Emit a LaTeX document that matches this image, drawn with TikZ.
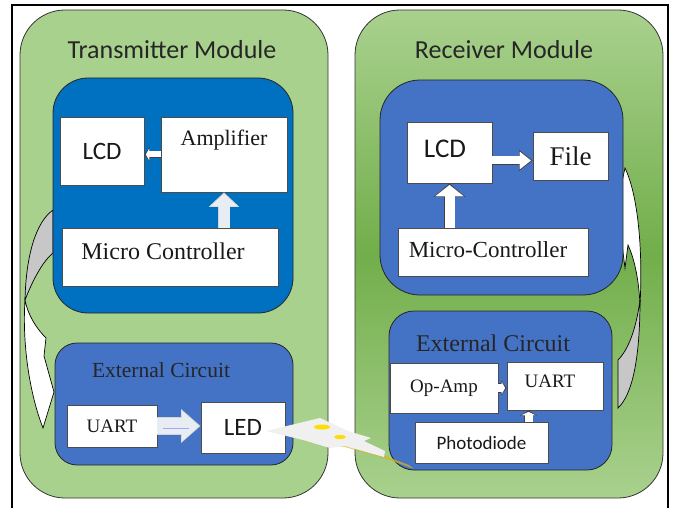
\documentclass[tikz,border=0pt]{standalone}
\usepackage{fontspec}
\setmainfont{Liberation Serif}
\newfontfamily\calibri{Carlito}
\usetikzlibrary{arrows.meta,calc}
\definecolor{lightgreen}{HTML}{A9D18E}
\definecolor{midgreen}{HTML}{72AE4B}
\definecolor{deepblue}{HTML}{0070C0}
\definecolor{panelblue}{HTML}{4472C4}
\definecolor{palegray}{HTML}{E8EDF3}
\tikzset{>=stealth,
  module/.style={draw=black!80, line width=0.8pt, rounded corners=45pt, inner sep=0pt},
  panel/.style={draw=black!85, line width=0.8pt, inner sep=0pt},
  unit/.style={draw=black!70, line width=0.8pt, fill=white, inner sep=0pt, text=black!90},
  title/.style={font=\calibri\txtsize{26}, text=black!85}}
\newcommand\txtsize[1]{\fontsize{#1}{#1}\selectfont}
\newcommand\blockarrow[7][black!75]{%
  \pgfmathsetmacro\outshaft{#4+1.6}%
  \pgfmathsetmacro\outheadw{#5+2.6}%
  \pgfmathsetmacro\outheadl{#6+1.4}%
  \pgfmathsetmacro\inheadl{#6-0.6}%
  \draw[#1, line width=\outshaft pt, -{Triangle[length=\outheadl pt, width=\outheadw pt]}] (#2) -- (#3);
  \draw[#7, line width=#4pt, shorten >=1.5pt, -{Triangle[length=\inheadl pt, width=#5pt]}] (#2) -- (#3);}

\begin{document}
\begin{tikzpicture}[x=1pt,y=-1pt]
\useasboundingbox (0,0) rectangle (675,508);
\draw[line width=1.4pt] (12,508) -- (12,5) -- (668,5) -- (668,508);

\node[module, fill=lightgreen, minimum width=308pt, minimum height=488pt] (tx) at (174,254) {};
\node[module, top color=lightgreen, bottom color=lightgreen, middle color=midgreen, minimum width=308pt, minimum height=488pt] (rx) at (509,254) {};
\node[title] (txtitle) at (172,50) {Transmitter Module};
\node[title] (rxtitle) at (504,50) {Receiver Module};

\filldraw[fill=black!22, draw=black, line width=0.7pt] (53,210) .. controls (36,222) and (26,255) .. (25,300) .. controls (32,282) and (42,262) .. (53,253) -- cycle;
\filldraw[fill=white, draw=black, line width=0.7pt] (25,300) .. controls (22,345) and (30,395) .. (43,428) -- (54,392) -- (44,356) -- (46,338) .. controls (36,328) and (28,315) .. (25,300) -- cycle;
\filldraw[fill=black!22, draw=black, line width=0.7pt] (618,360) -- (618,408) .. controls (632,395) and (640,360) .. (640,300) .. controls (636,330) and (628,350) .. (618,360) -- cycle;
\filldraw[fill=white, draw=black, line width=0.7pt] (640,305) .. controls (643,250) and (638,195) .. (625,168) -- (617,205) -- (625,268) -- (628,245) .. controls (635,260) and (639,282) .. (640,305) -- cycle;

\node[panel, fill=deepblue, rounded corners=35pt, minimum width=240pt, minimum height=235pt] (txctrl) at (173,195.5) {};
\node[panel, fill=panelblue, rounded corners=22pt, minimum width=238pt, minimum height=122pt] (txext) at (174,404) {};
\node[panel, fill=panelblue, rounded corners=40pt, minimum width=243pt, minimum height=215pt] (rxctrl) at (501.5,187.5) {};
\node[panel, fill=panelblue, rounded corners=25pt, minimum width=223pt, minimum height=159pt] (rxext) at (500.5,390.5) {};
\node[font=\txtsize{21.5}, text=black!85] (txexttitle) at (161,370) {External Circuit};
\node[font=\txtsize{24}, text=black!85] (rxexttitle) at (493,343) {External Circuit};

\node[unit, minimum width=84pt, minimum height=68pt, font=\calibri\txtsize{25}] (lcdtx) at (102,151) {LCD};
\node[unit, minimum width=126pt, minimum height=75pt] (amp) at (224,154.5) {};
\node[font=\txtsize{22}, text=black!90] (amptext) at (224,140) {Amplifier};
\node[unit, minimum width=216pt, minimum height=58pt] (mctx) at (170,257) {};
\node[font=\txtsize{24}, text=black!90] (mctxtext) at (163,251) {Micro Controller};
\node[unit, minimum width=90pt, minimum height=42pt, font=\txtsize{19}] (uarttx) at (112,426) {UART};
\node[unit, minimum width=84pt, minimum height=51pt, font=\calibri\txtsize{25}] (ledtx) at (243,427.5) {LED};

\node[unit, minimum width=85pt, minimum height=61pt] (lcdrx) at (449.5,152.5) {};
\node[font=\calibri\txtsize{27}, text=black!90] (lcdrxtext) at (445,149) {LCD};
\node[unit, minimum width=75pt, minimum height=48pt, font=\txtsize{27}] (filerx) at (570.5,156) {File};
\node[unit, minimum width=190pt, minimum height=48pt] (mcrx) at (493,252) {};
\node[font=\txtsize{23}, text=black!90] (mcrxtext) at (488,250) {Micro-Controller};
\node[unit, minimum width=108pt, minimum height=50pt, font=\txtsize{19}] (opamp) at (444,388) {Op-Amp};
\node[unit, minimum width=96pt, minimum height=48pt] (uartrx) at (555,386) {};
\node[font=\txtsize{19}, text=black!90] (uartrxtext) at (550,381) {UART};
\node[unit, minimum width=133pt, minimum height=41pt, font=\calibri\txtsize{19}] (photo) at (481.5,442.5) {Photodiode};

\coordinate (lcdout) at ($(lcdrx.east)+(0,8)$);
\coordinate (photoout) at ($(photo.north)+(47,0)$);
\blockarrow{amp.west}{amp.west -| lcdtx.east}{6}{12}{4}{white}
\blockarrow[gray!35]{amp.south |- mctx.north}{amp.south}{11}{27}{13}{palegray}
\blockarrow[gray!35]{uarttx.east}{uarttx.east -| ledtx.west}{16}{30}{18}{palegray}
\draw[blue!35, line width=0.8pt] ([xshift=6pt,yshift=-2pt]uarttx.east) -- ([xshift=-12pt,yshift=-2pt]uarttx.east -| ledtx.west);
\blockarrow{lcdout}{lcdout -| filerx.west}{8}{17}{12}{white}
\blockarrow{lcdrx.south |- mcrx.north}{lcdrx.south}{10}{28}{12}{white}
\blockarrow{opamp.east}{opamp.east -| uartrx.west}{8}{12}{4}{white}
\blockarrow{photoout}{photoout |- uartrx.south}{8}{14}{4}{white}

\fill[brown!60!yellow, opacity=0.7] (300,441) -- (345,447) -- (384,458) -- (414,469) -- (409,465) -- (380,454) -- (344,444) -- cycle;
\fill[white!94!black] (266,431) -- (320,418) -- (348,431) -- (371,438) -- (364,441) -- (385,451) -- (384,457) -- (345,446) -- (330,448) -- (303,440) -- cycle;
\fill[yellow!80!orange] (322,427) ellipse (8 and 2.5);
\fill[yellow!80!orange] (340,437) ellipse (6 and 2);
\end{tikzpicture}
\end{document}
